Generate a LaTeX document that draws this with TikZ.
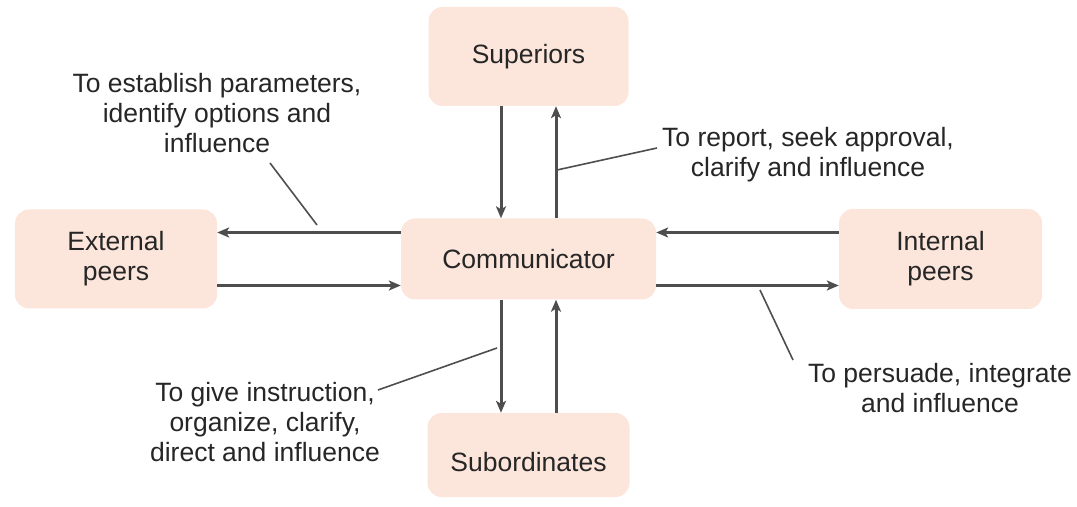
\documentclass[tikz,border=0pt]{standalone}
\usepackage{fontspec}
\setmainfont{Liberation Sans}
\usetikzlibrary{arrows.meta}

\definecolor{boxfill}{RGB}{252,229,219}
\definecolor{linegray}{RGB}{78,78,78}
\definecolor{inkgray}{RGB}{38,38,38}
\newcommand\labelfont{\fontsize{26.5bp}{30bp}\selectfont}

\tikzset{
  box/.style={rectangle, rounded corners=14bp, fill=boxfill, draw=none,
    align=center, inner sep=0pt, text=inkgray, font=\labelfont},
  flow/.style={draw=linegray, line width=3bp,
    -{Stealth[length=12bp,width=10bp,inset=3bp]}},
  leader/.style={draw=linegray, line width=1.6bp},
  % anchored at the baseline of the last line
  note/.style={align=center, inner sep=0pt, text=inkgray, font=\labelfont, anchor=base},
}

\begin{document}
\begin{tikzpicture}[x=1bp,y=-1bp]
  \useasboundingbox (0,0) rectangle (1077,507);

  % roles
  \node[box, minimum width=200bp, minimum height=99bp] (sup) at (528.5,56.5) {Superiors};
  \node[box, minimum width=255bp, minimum height=81bp] (com) at (528.5,259) {Communicator};
  \node[box, minimum width=202bp, minimum height=99bp] (ext) at (116,259) {External\\peers};
  \node[box, minimum width=203bp, minimum height=100bp] (int) at (940.5,259) {Internal\\peers};
  % text sits a little low in this box
  \node[box, minimum width=202bp, minimum height=84bp, text height=34bp] (sub) at (528.5,455) {Subordinates};

  % two-way flows
  \draw[flow] ([xshift=-27.5bp]sup.south) -- ([xshift=-27.5bp]com.north);
  \draw[flow] ([xshift=27.5bp]com.north) -- ([xshift=27.5bp]sup.south);
  \draw[flow] ([xshift=-27.5bp]com.south) -- ([xshift=-27.5bp]sub.north);
  \draw[flow] ([xshift=27.5bp]sub.north) -- ([xshift=27.5bp]com.south);
  \draw[flow] ([yshift=26.5bp]com.west) -- ([yshift=26.5bp]ext.east);
  \draw[flow] ([yshift=-26.5bp]ext.east) -- ([yshift=-26.5bp]com.west);
  \draw[flow] ([yshift=26.5bp]int.west) -- ([yshift=26.5bp]com.east);
  \draw[flow] ([yshift=-26.5bp]com.east) -- ([yshift=-26.5bp]int.west);

  % purposes
  \node[note] (n1) at (217,153) {To establish parameters,\\identify options and\\influence};
  \node[note] (n2) at (808,177) {To report, seek approval,\\clarify and influence};
  \node[note] (n3) at (265,461) {To give instruction,\\organize, clarify,\\direct and influence};
  \node[note] (n4) at (940,412) {To persuade, integrate\\and influence};

  % leader lines
  \coordinate (n1a) at (270,163);  \coordinate (n1b) at (317,225);
  \coordinate (n2a) at (657,148);  \coordinate (n2b) at (557,170);
  \coordinate (n3a) at (378,390);  \coordinate (n3b) at (497,348);
  \coordinate (n4a) at (793,360);  \coordinate (n4b) at (760,290);
  \draw[leader] (n1a) -- (n1b);
  \draw[leader] (n2a) -- (n2b);
  \draw[leader] (n3a) -- (n3b);
  \draw[leader] (n4a) -- (n4b);
\end{tikzpicture}
\end{document}
